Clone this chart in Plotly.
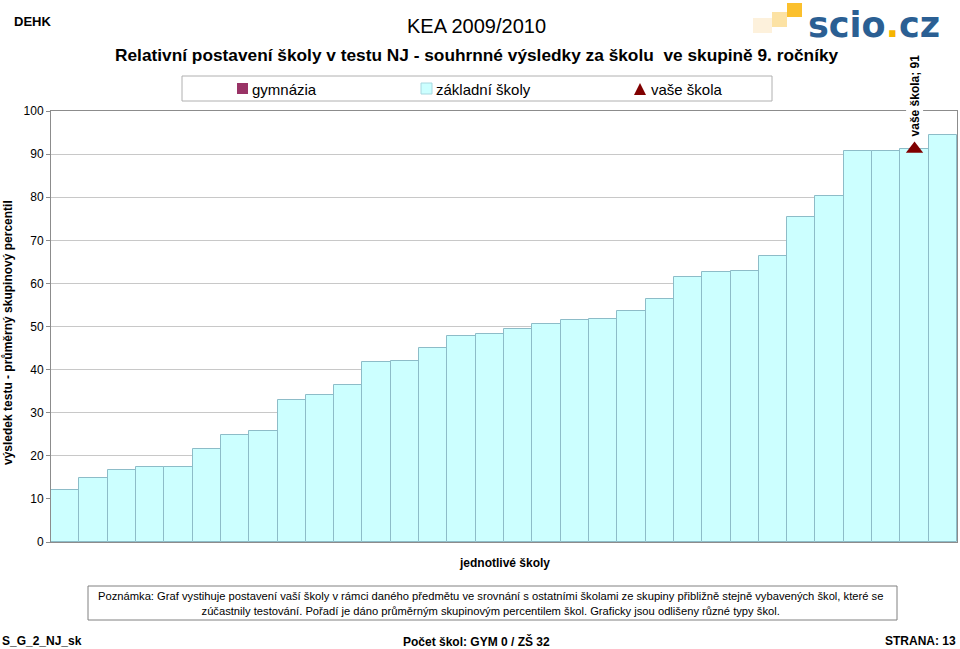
import plotly.graph_objects as go

# ---------------- data ----------------
school_rank = list(range(1, 33))
school_values = [12.0, 14.8, 16.8, 17.3, 17.4, 21.5, 24.8, 25.8, 32.9, 34.0, 36.5,
                 41.8, 41.9, 45.0, 47.7, 48.2, 49.5, 50.5, 51.4, 51.7, 53.7, 56.3,
                 61.6, 62.6, 62.8, 66.3, 75.4, 80.3, 90.8, 90.8, 91.2, 94.5]
your_school_rank = [31]
your_school_value = [91.2]
y_ticks = [0, 10, 20, 30, 40, 50, 60, 70, 80, 90, 100]

W, H = 960, 649
L, R, T, B = 51, 957, 111, 542


def px(x):
    return (x - L) / (R - L)


def py(y):
    return (B - y) / (B - T)


FONT = "Liberation Sans, Arial, sans-serif"

fig = go.Figure()

fig.add_trace(go.Bar(
    x=school_rank, y=school_values, name="základní školy",
    marker=dict(color="#CCFFFF", line=dict(color="#8DBCC8", width=1)),
    showlegend=False, hoverinfo="y"))

fig.add_trace(go.Scatter(
    x=your_school_rank, y=your_school_value, mode="markers", name="vaše škola",
    marker=dict(symbol="triangle-up", size=15, color="#800000"),
    showlegend=False))

fig.update_layout(
    width=W, height=H,
    margin=dict(l=L, r=W - R, t=T, b=H - B, pad=0),
    paper_bgcolor="white", plot_bgcolor="white",
    bargap=0, showlegend=False,
    font=dict(family=FONT, color="black"),
    xaxis=dict(range=[0.5, 32.5], showticklabels=False, showgrid=False,
               zeroline=False, showline=True, mirror=True, linecolor="#8C8C8C",
               linewidth=1, ticks=""),
    yaxis=dict(range=[0, 100], tickvals=y_ticks, showgrid=True,
               gridcolor="#C8C8C8", gridwidth=1, zeroline=False,
               showline=True, mirror=True, linecolor="#8C8C8C", linewidth=1,
               ticks="outside", ticklen=4, tickcolor="#8C8C8C",
               tickfont=dict(size=12, family=FONT, color="black")),
)

ann = []
# header
ann.append(dict(text="<b>DEHK</b>", x=px(12), y=py(22), xref="paper", yref="paper",
                xanchor="left", yanchor="middle", showarrow=False,
                font=dict(size=13, family=FONT)))
ann.append(dict(text="KEA 2009/2010", x=px(476), y=py(26), xref="paper", yref="paper",
                xanchor="center", yanchor="middle", showarrow=False,
                font=dict(size=20, family=FONT)))
ann.append(dict(text="<b>Relativní postavení školy v testu NJ - souhrnné výsledky za školu  ve skupině 9. ročníky</b>",
                x=px(477), y=py(55), xref="paper", yref="paper",
                xanchor="center", yanchor="middle", showarrow=False,
                font=dict(size=17.3, family=FONT)))
# logo
ann.append(dict(text='<b><span style="color:#2B5F93">scio</span><span style="color:#F5B400">.</span><span style="color:#2B5F93">cz</span></b>',
                x=px(874), y=py(25), xref="paper", yref="paper",
                xanchor="center", yanchor="middle", showarrow=False,
                font=dict(size=35, family="DejaVu Sans, sans-serif")))
# legend texts
for t, x in [("gymnázia", 250), ("základní školy", 434), ("vaše škola", 649)]:
    ann.append(dict(text=t, x=px(x), y=py(89), xref="paper", yref="paper",
                    xanchor="left", yanchor="middle", showarrow=False,
                    font=dict(size=15, family=FONT)))
# your-school label
ann.append(dict(text="<b>vaše škola; %d</b>" % round(your_school_value[0]),
                x=your_school_rank[0], y=your_school_value[0], xref="x", yref="y",
                xanchor="center", yanchor="bottom", yshift=10, textangle=-90,
                showarrow=False, bgcolor="white", borderpad=1,
                font=dict(size=12, family=FONT)))
# axis titles
ann.append(dict(text="<b>výsledek testu - průměrný skupinový percentil</b>",
                x=px(8), y=py(333), xref="paper", yref="paper",
                xanchor="center", yanchor="middle", textangle=-90, showarrow=False,
                font=dict(size=12, family=FONT)))
ann.append(dict(text="<b>jednotlivé školy</b>", x=px(504), y=py(563),
                xref="paper", yref="paper", xanchor="center", yanchor="middle",
                showarrow=False, font=dict(size=12, family=FONT)))
# note
ann.append(dict(text="Poznámka: Graf vystihuje postavení vaší školy v rámci daného předmětu ve srovnání s ostatními školami ze skupiny přibližně stejně vybavených škol, které se<br>zúčastnily testování. Pořadí je dáno průměrným skupinovým percentilem škol. Graficky jsou odlišeny různé typy škol.",
                x=px(490), y=py(603), xref="paper", yref="paper",
                xanchor="center", yanchor="middle", showarrow=False, align="center",
                font=dict(size=11.2, family=FONT)))
# footer
ann.append(dict(text="<b>S_G_2_NJ_sk</b>", x=px(0), y=py(641), xref="paper", yref="paper",
                xanchor="left", yanchor="middle", showarrow=False,
                font=dict(size=12, family=FONT)))
ann.append(dict(text="<b>Počet škol: GYM 0 / ZŠ 32</b>", x=px(476), y=py(641),
                xref="paper", yref="paper", xanchor="center", yanchor="middle",
                showarrow=False, font=dict(size=12, family=FONT)))
ann.append(dict(text="<b>STRANA: 13</b>", x=px(958), y=py(641), xref="paper", yref="paper",
                xanchor="right", yanchor="middle", showarrow=False,
                font=dict(size=12, family=FONT)))
fig.update_layout(annotations=ann)

shapes = []


def rect(x0, y0, x1, y1, fill="rgba(0,0,0,0)", line="#A0A0A0", lw=1):
    shapes.append(dict(type="rect", xref="paper", yref="paper",
                       x0=px(x0), x1=px(x1), y0=py(y1), y1=py(y0),
                       fillcolor=fill, line=dict(color=line, width=lw), layer="above"))


# legend box
rect(182, 76, 772, 101, line="#B0B0B0")
rect(237, 83, 248, 94, fill="#993366", line="#993366", lw=0)
rect(421, 83, 432, 94, fill="#CCFFFF", line="#A8D8E0")
shapes.append(dict(type="path", xref="paper", yref="paper",
                   path="M %f,%f L %f,%f L %f,%f Z" % (px(634), py(95), px(646), py(95), px(640), py(83)),
                   fillcolor="#800000", line=dict(width=0), layer="above"))
# note box
rect(88, 586, 897, 620, line="#808080")
# logo squares
rect(753, 18, 772, 33, fill="#FDF1DC", line="#FDF1DC", lw=0)
rect(772, 12, 787, 27, fill="#FCE2A4", line="#FCE2A4", lw=0)
rect(787, 3, 802, 17, fill="#FBC02D", line="#FBC02D", lw=0)
fig.update_layout(shapes=shapes)

fig.write_html("out.html")
